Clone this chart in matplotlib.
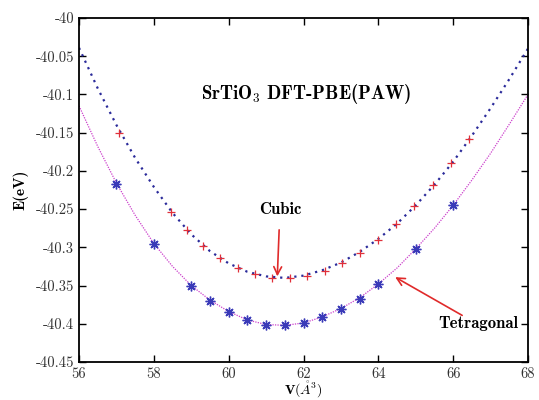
import matplotlib
matplotlib.use("Agg")
import matplotlib.pyplot as plt
from matplotlib.ticker import FuncFormatter

# cubic SrTiO3: computed points (red +)
v_cubic = [57.07, 58.46, 58.89, 59.32, 59.78, 60.24, 60.70, 61.16, 61.63, 62.10,
           62.57, 63.04, 63.52, 64.00, 64.48, 64.96, 65.45, 65.94, 66.43]
e_cubic = [-40.150, -40.254, -40.277, -40.298, -40.314, -40.327, -40.335, -40.340, -40.340, -40.337,
           -40.331, -40.320, -40.307, -40.290, -40.270, -40.246, -40.219, -40.190, -40.158]

# tetragonal SrTiO3: computed points (blue stars)
v_tetra = [57.0, 58.0, 59.0, 59.5, 60.0, 60.5, 61.0, 61.5, 62.0, 62.5, 63.0, 63.5, 64.0, 65.0, 66.0]
e_tetra = [-40.217, -40.295, -40.350, -40.370, -40.384, -40.395, -40.401, -40.402, -40.399,
           -40.391, -40.381, -40.367, -40.348, -40.302, -40.245]

# fitted curves
v_fit = [56.0, 56.5, 57.0, 57.5, 58.0, 58.5, 59.0, 59.5, 60.0, 60.5, 61.0, 61.5, 62.0,
         62.5, 63.0, 63.5, 64.0, 64.5, 65.0, 65.5, 66.0, 66.5, 67.0, 67.5, 68.0]
e_fit_cubic = [-40.039, -40.092, -40.140, -40.183, -40.221, -40.255, -40.283, -40.305, -40.321,
               -40.332, -40.338, -40.340, -40.337, -40.330, -40.320, -40.306, -40.289, -40.269,
               -40.245, -40.218, -40.188, -40.154, -40.118, -40.080, -40.040]
e_fit_tetra = [-40.115, -40.168, -40.216, -40.258, -40.295, -40.325, -40.350, -40.369, -40.384,
               -40.395, -40.401, -40.402, -40.399, -40.391, -40.380, -40.366, -40.348, -40.327,
               -40.302, -40.275, -40.245, -40.212, -40.177, -40.139, -40.100]

xticks = [56, 58, 60, 62, 64, 66, 68]
yticks = [-40, -40.05, -40.1, -40.15, -40.2, -40.25, -40.3, -40.35, -40.4, -40.45]

plt.rcParams.update({
    "font.family": "cmr10",
    "mathtext.fontset": "cm",
    "axes.unicode_minus": False,
    "font.size": 10,
})

fig = plt.figure(figsize=(5.39, 4.0), dpi=100)
ax = fig.add_axes([0.1466, 0.095, 0.833, 0.86])

ax.plot(v_fit, e_fit_cubic, linestyle=(0, (1, 2.2)), color="#2a2a9a", linewidth=1.6)
ax.plot(v_fit, e_fit_tetra, linestyle=(0, (1, 1)), color="#cc3fcc", linewidth=0.9)
ax.plot(v_cubic, e_cubic, linestyle="none", marker="+", markersize=6,
        markeredgewidth=0.9, color="#e0303a")
ax.plot(v_tetra, e_tetra, linestyle="none", marker=(8, 2, 0), markersize=7,
        markeredgewidth=1.0, color="#3a3ab8")

ax.set_xlim(56, 68)
ax.set_ylim(-40.45, -40)
ax.set_xticks(xticks)
ax.set_yticks(yticks)
ax.xaxis.set_major_formatter(FuncFormatter(lambda v, p: "%g" % v))
ax.yaxis.set_major_formatter(FuncFormatter(lambda v, p: "%g" % v))
ax.tick_params(direction="in", top=True, right=True, length=5, width=1.0,
               labelsize=10.5, labelcolor="#333333")
for s in ax.spines.values():
    s.set_linewidth(1.3)

ax.set_xlabel(r"$\mathbf{V}(\mathring{A}^3)$", fontsize=10, labelpad=-1)
ax.set_ylabel("E(eV)", family="cmb10", fontsize=11, labelpad=5)

ax.text(62.07, -40.10, r"SrTiO$_\mathbf{3}$ DFT-PBE(PAW)", family="cmb10", fontsize=13.5,
        ha="center", va="center")

ax.annotate("Cubic", xy=(61.3, -40.338), xytext=(61.37, -40.251),
            family="cmb10", fontsize=12, ha="center", va="center",
            arrowprops=dict(arrowstyle="->", color="#e02a2a", lw=1.2, mutation_scale=14,
                            shrinkA=7, shrinkB=0))
ax.annotate("", xy=(64.45, -40.339), xytext=(66.24, -40.389),
            arrowprops=dict(arrowstyle="->", color="#e02a2a", lw=1.2, mutation_scale=14,
                            shrinkA=0, shrinkB=0))
ax.text(66.67, -40.399, "Tetragonal", family="cmb10", fontsize=12, ha="center", va="center")

fig.savefig("out.png", dpi=100)
